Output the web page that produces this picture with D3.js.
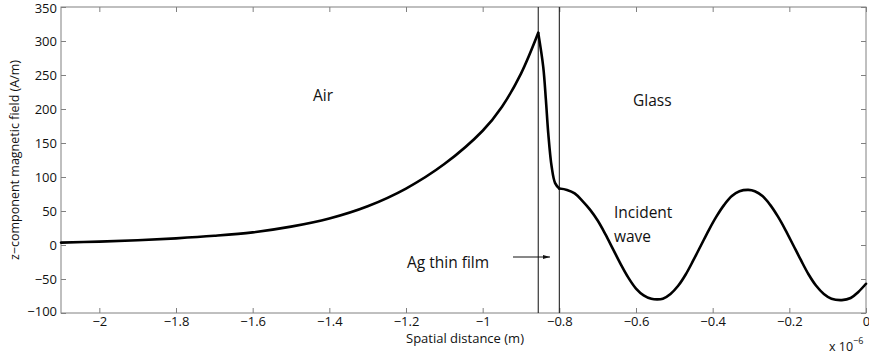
<!DOCTYPE html>
<html>
<head>
<meta charset="utf-8">
<script src="https://cdn.jsdelivr.net/npm/d3@7"></script>
<style>
body { margin: 0; background: #fff; }
text { font-family: "Open Sans", "Noto Sans", sans-serif; fill: #111; }
</style>
</head>
<body>
<div id="viz"></div>
<script>
var w = 869;
var h = 355;
var margin = {top: 7, right: 3, bottom: 42, left: 61};

// field along x, in micrometres (axis shows x 10^-6)
var airX = [-2.1, -2.0, -1.9, -1.8, -1.7, -1.6, -1.5, -1.4, -1.3, -1.2, -1.1, -1.0, -0.95, -0.9, -0.855];
var airY = [3.5, 5, 7, 9.8, 13.5, 18.6, 27, 39, 57, 83, 119, 168, 203, 252, 312];

var filmX = [-0.855, -0.842, -0.835, -0.829, -0.82, -0.811, -0.8];
var filmY = [312, 262, 213, 165, 115, 91, 83];

var glassX = [-0.8, -0.78, -0.76, -0.74, -0.72, -0.70, -0.68, -0.66, -0.64, -0.62, -0.60, -0.58, -0.56, -0.545,
              -0.53, -0.51, -0.49, -0.47, -0.45, -0.43, -0.41, -0.39, -0.37, -0.35, -0.33, -0.307,
              -0.29, -0.27, -0.25, -0.23, -0.21, -0.19, -0.17, -0.15, -0.13, -0.11, -0.09, -0.063,
              -0.04, -0.02, 0.0];
var glassY = [83, 81, 76, 65, 52, 36, 16, -6, -28, -48, -64, -74, -79, -80,
              -79, -72, -60, -43, -22, 0, 22, 42, 59, 72, 79, 81,
              79, 72, 59, 42, 22, 0, -22, -43, -60, -72, -79, -81,
              -78, -69, -57];

var boundaries = [-0.855, -0.8];

var xTicks = [-2, -1.8, -1.6, -1.4, -1.2, -1, -0.8, -0.6, -0.4, -0.2, 0];
var yTicks = [-100, -50, 0, 50, 100, 150, 200, 250, 300, 350];

var pw = w - margin.left - margin.right;
var ph = h - margin.top - margin.bottom;

var svg = d3.select("#viz")
    .append("svg")
    .attr("width", w)
    .attr("height", h);

var g = svg.append("g")
    .attr("transform", "translate(" + margin.left + "," + margin.top + ")");

var x = d3.scaleLinear().domain([-2.1, 0]).range([0, pw]);
var y = d3.scaleLinear().domain([-100, 350]).range([ph, 0]);

var fmt = function (d) { return d3.format("")(d).replace("-", "\u2212"); };

// frame
g.append("rect")
    .attr("width", pw)
    .attr("height", ph)
    .attr("fill", "none")
    .attr("stroke", "#808080")
    .attr("stroke-width", 1);

// axes with inward ticks
var xb = g.append("g")
    .attr("transform", "translate(0," + ph + ")")
    .call(d3.axisBottom(x).tickValues(xTicks).tickSize(-5).tickPadding(4).tickFormat(fmt));
var xt = g.append("g")
    .call(d3.axisTop(x).tickValues(xTicks).tickSize(-5).tickFormat(""));
var yl = g.append("g")
    .call(d3.axisLeft(y).tickValues(yTicks).tickSize(-5).tickPadding(3).tickFormat(fmt));
var yr = g.append("g")
    .attr("transform", "translate(" + pw + ",0)")
    .call(d3.axisRight(y).tickValues(yTicks).tickSize(-5).tickFormat(""));

[xb, xt, yl, yr].forEach(function (a) {
    a.select(".domain").remove();
    a.selectAll(".tick line").attr("stroke", "#808080");
    a.selectAll("text").style("font-size", "13px").attr("fill", "#111");
});
yl.selectAll(".tick text").attr("dx", "-1");
yl.selectAll(".tick").filter(function (d) { return d == 350; }).select("text").attr("dy", "0.45em");
yl.selectAll(".tick").filter(function (d) { return d == -100; }).select("text").attr("dy", "0.2em");

// layer boundaries
g.selectAll("line.bound")
    .data(boundaries)
    .enter().append("line")
    .attr("class", "bound")
    .attr("x1", function (d) { return x(d); })
    .attr("x2", function (d) { return x(d); })
    .attr("y1", 0)
    .attr("y2", ph)
    .attr("stroke", "#222")
    .attr("stroke-width", 1.1);

// curve, one piece per medium
function zip(xs, ys) {
    return xs.map(function (v, i) { return [v, ys[i]]; });
}

var line = d3.line()
    .x(function (d) { return x(d[0]); })
    .y(function (d) { return y(d[1]); })
    .curve(d3.curveCatmullRom.alpha(0.5));

g.selectAll("path.field")
    .data([zip(airX, airY), zip(filmX, filmY), zip(glassX, glassY)])
    .enter().append("path")
    .attr("class", "field")
    .attr("d", line)
    .attr("fill", "none")
    .attr("stroke", "#000")
    .attr("stroke-width", 2.6)
    .attr("stroke-linecap", "round")
    .attr("stroke-linejoin", "round");

// labels
svg.append("text")
    .attr("transform", "translate(19," + (margin.top + ph / 2) + ") rotate(-90)")
    .attr("text-anchor", "middle")
    .style("font-size", "12.5px")
    .text("z\u2212component magnetic field (A/m)");

svg.append("text")
    .attr("x", 465)
    .attr("y", 343)
    .attr("text-anchor", "middle")
    .style("font-size", "13px")
    .text("Spatial distance (m)");

var mult = svg.append("text")
    .attr("x", 829)
    .attr("y", 351)
    .style("font-size", "12.5px");
mult.append("tspan").text("x 10");
mult.append("tspan").attr("dy", -7).style("font-size", "9px").text("\u22126");

var notes = [
    {t: "Air", x: 313, y: 101},
    {t: "Glass", x: 633, y: 106},
    {t: "Incident", x: 614, y: 218},
    {t: "wave", x: 614, y: 242}
];
svg.selectAll("text.note")
    .data(notes)
    .enter().append("text")
    .attr("class", "note")
    .attr("x", function (d) { return d.x; })
    .attr("y", function (d) { return d.y; })
    .style("font-size", "15.5px")
    .text(function (d) { return d.t; });

svg.append("text")
    .attr("x", 407)
    .attr("y", 268)
    .style("font-size", "15.5px")
    .style("font-weight", "500")
    .text("Ag thin film");

svg.append("defs").append("marker")
    .attr("id", "arr")
    .attr("viewBox", "0 0 10 10")
    .attr("refX", 10)
    .attr("refY", 5)
    .attr("markerWidth", 7)
    .attr("markerHeight", 7)
    .attr("orient", "auto")
    .append("path")
    .attr("d", "M0,2 L10,5 L0,8 Z")
    .attr("fill", "#111");

svg.append("line")
    .attr("x1", 513)
    .attr("x2", 550)
    .attr("y1", 257)
    .attr("y2", 257)
    .attr("stroke", "#111")
    .attr("stroke-width", 1)
    .attr("marker-end", "url(#arr)");
</script>
</body>
</html>
